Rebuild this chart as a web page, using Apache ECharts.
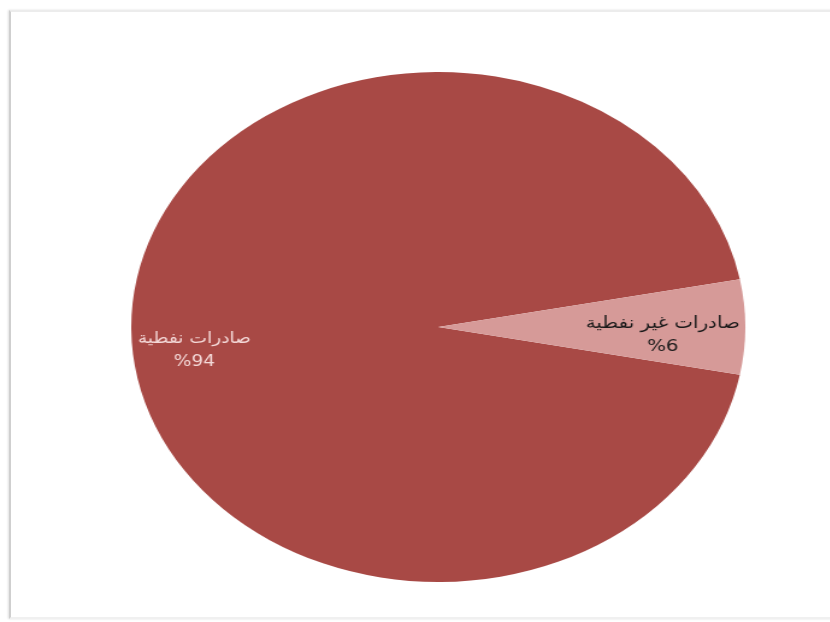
<!DOCTYPE html>
<html lang="ar">
<head>
<meta charset="utf-8">
<title>الصادرات</title>
<script src="https://cdn.jsdelivr.net/npm/echarts@6/dist/echarts.min.js"></script>
<style>
  html, body { margin: 0; padding: 0; background: #ffffff; overflow: hidden; }
  body { width: 830px; height: 622px; position: relative; }
  /* picture frame */
  #frame {
    position: absolute; left: 9px; top: 10px; width: 840px; height: 609px;
    border-left: 2px solid #cfcfcf; border-top: 2px solid #ececec; border-bottom: 2px solid #f0f0f0;
    box-shadow: -1px 0 2px rgba(0,0,0,0.12);
    box-sizing: border-box; background: #ffffff;
  }
  /* the pie is drawn round, then widened into an ellipse */
  #chart {
    position: absolute; left: 0; top: 0; width: 689px; height: 622px;
    transform: scaleX(1.204); transform-origin: 0 0;
  }
</style>
</head>
<body>
<div id="frame"></div>
<div id="chart"></div>
<script>
// export shares (%)
const categories = ['صادرات نفطية', 'صادرات غير نفطية'];
const shares = [94, 6];
const sliceColors = ['#A84945', '#D69A98'];
const labelColors = ['#F4D9D8', '#1a1a1a'];
const labelSizes = [15.5, 16.5];

const chart = echarts.init(document.getElementById('chart'), null, { renderer: 'canvas' });

const data = categories.map((name, i) => ({
  name: name,
  value: shares[i],
  itemStyle: { color: sliceColors[i] },
  label: { color: labelColors[i], fontSize: labelSizes[i] }
}));

chart.setOption({
  animation: false,
  backgroundColor: 'transparent',
  series: [{
    type: 'pie',
    center: [364, 327],
    radius: 255,
    startAngle: 349.2,
    clockwise: true,
    silent: true,
    data: data,
    itemStyle: { borderWidth: 0 },
    label: {
      show: true,
      position: 'inside',
      fontFamily: 'DejaVu Sans',
      lineHeight: 23,
      align: 'center',
      formatter: p => p.name + '\n%' + p.value
    },
    labelLine: { show: false },
    labelLayout: p => p.dataIndex === 0 ? { dx: -72, dy: 23 } : { dx: 56, dy: 8 }
  }]
});
</script>
</body>
</html>
